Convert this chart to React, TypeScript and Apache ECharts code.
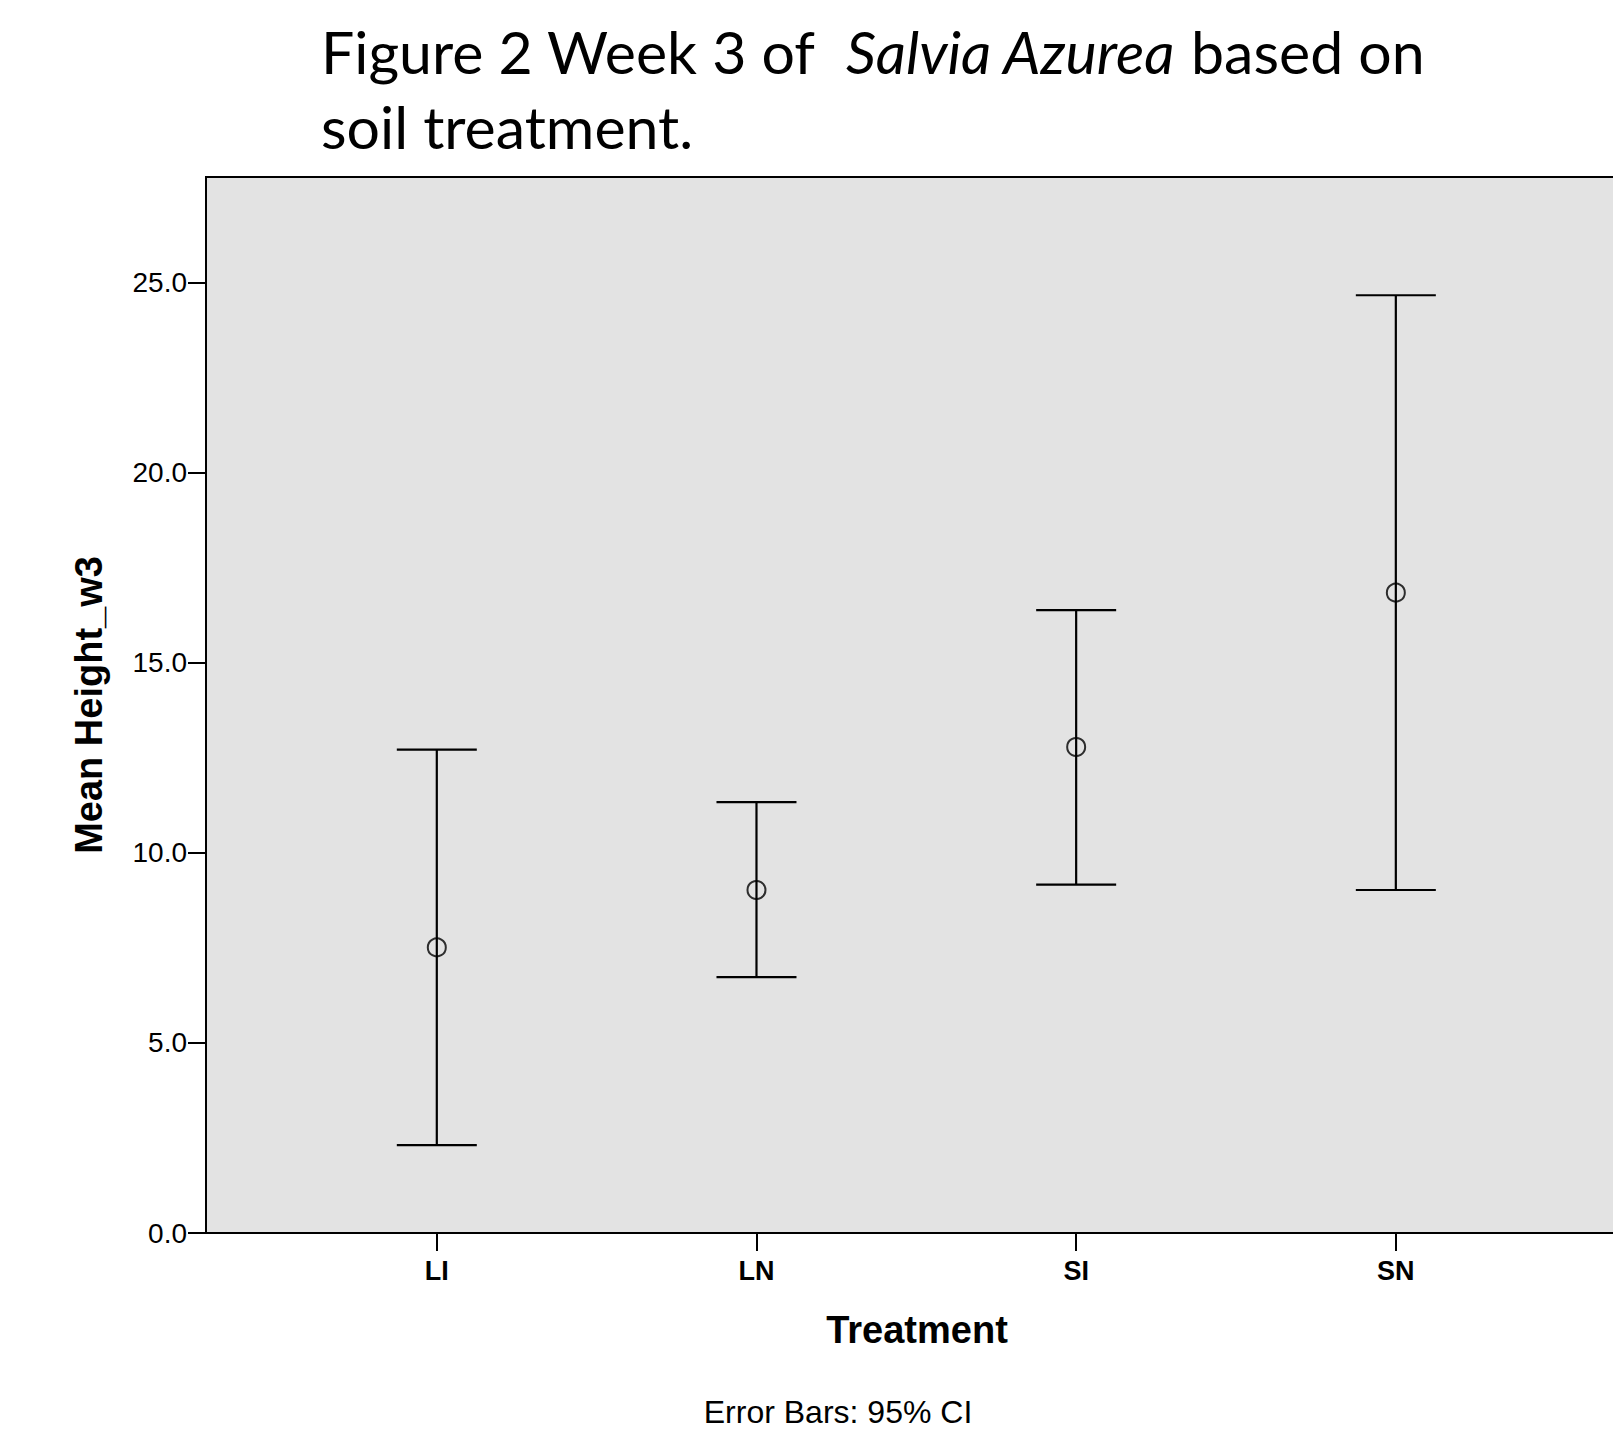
import React, { useEffect, useRef } from "react";
import * as echarts from "echarts";

const categories = ["LI", "LN", "SI", "SN"];
const categoryPositions = [1, 2, 3, 4];
const meanValues = [7.51, 9.02, 12.78, 16.84];
const upperCI = [12.71, 11.33, 16.38, 24.66];
const lowerCI = [2.31, 6.73, 9.16, 9.02];
const yTickValues = [0, 5, 10, 15, 20, 25];

const TITLE_LINE1_A = "Figure 2 Week 3 of  ";
const TITLE_ITALIC = "Salvia Azurea";
const TITLE_LINE1_B = " based on";
const TITLE_LINE2 = "soil treatment.";
const X_NAME = "Treatment";
const Y_NAME = "Mean Height_w3";
const FOOTNOTE = "Error Bars: 95% CI";

export default function App() {
  const ref = useRef<HTMLDivElement>(null);

  useEffect(() => {
    if (!ref.current) return;
    const chart = echarts.init(ref.current, undefined, { renderer: "svg" });

    const errData = categoryPositions.map((x, i) => [x, lowerCI[i], upperCI[i]]);
    const meanData = categoryPositions.map((x, i) => [x, meanValues[i]]);
    const sansFont = '"Liberation Sans", Arial, sans-serif';

    chart.setOption({
      animation: false,
      backgroundColor: "#ffffff",
      grid: {
        left: 206,
        top: 177,
        width: 1420,
        bottom: 211,
        show: true,
        backgroundColor: "#e3e3e3",
        borderColor: "#000000",
        borderWidth: 2,
        containLabel: false,
        outerBoundsMode: "none",
      },
      xAxis: {
        type: "value",
        min: 0.278,
        max: 4.72,
        axisLine: { show: true, onZero: false, lineStyle: { color: "#000", width: 2 } },
        axisTick: {
          show: true,
          length: 18,
          lineStyle: { color: "#000", width: 2 },
          customValues: categoryPositions,
        },
        axisLabel: {
          customValues: categoryPositions,
          formatter: (v: number) => categories[Math.round(v) - 1] ?? "",
          color: "#000",
          fontFamily: sansFont,
          fontWeight: "bold",
          fontSize: 27,
          margin: 24,
        },
        splitLine: { show: false },
      },
      yAxis: {
        type: "value",
        min: 0,
        max: 27.77,
        axisLine: { show: true, onZero: false, lineStyle: { color: "#000", width: 2 } },
        axisTick: {
          show: true,
          length: 18,
          lineStyle: { color: "#000", width: 2 },
          customValues: yTickValues,
        },
        axisLabel: {
          customValues: yTickValues,
          formatter: (v: number) => v.toFixed(1),
          color: "#000",
          fontFamily: sansFont,
          fontSize: 28,
          margin: 19,
        },
        splitLine: { show: false },
      },
      graphic: [
        {
          type: "text",
          x: 321,
          y: 51,
          style: {
            text: `{a|${TITLE_LINE1_A}}{b|${TITLE_ITALIC}}{a|${TITLE_LINE1_B}}`,
            verticalAlign: "middle",
            align: "left",
            rich: {
              a: { fontFamily: "Lato", fontSize: 59, fill: "#000" },
              b: { fontFamily: "Lato", fontSize: 59, fontStyle: "italic", fill: "#000" },
            },
          },
        },
        {
          type: "text",
          x: 321,
          y: 126,
          style: {
            text: TITLE_LINE2,
            fontFamily: "Lato",
            fontSize: 59,
            fill: "#000",
            verticalAlign: "middle",
            align: "left",
          },
        },
        {
          type: "text",
          x: 917,
          y: 1330,
          style: {
            text: X_NAME,
            font: `bold 38px ${sansFont}`,
            fill: "#000",
            align: "center",
            verticalAlign: "middle",
          },
        },
        {
          type: "text",
          x: 89,
          y: 705,
          rotation: Math.PI / 2,
          style: {
            text: Y_NAME,
            font: `bold 38px ${sansFont}`,
            fill: "#000",
            align: "center",
            verticalAlign: "middle",
          },
        },
        {
          type: "text",
          x: 838,
          y: 1412,
          style: {
            text: FOOTNOTE,
            font: `32px ${sansFont}`,
            fill: "#000",
            align: "center",
            verticalAlign: "middle",
          },
        },
      ],
      series: [
        {
          type: "custom",
          data: errData,
          encode: { x: 0, y: [1, 2] },
          renderItem: (params: any, api: any) => {
            const x = api.value(0);
            const lo = api.coord([x, api.value(1)]);
            const hi = api.coord([x, api.value(2)]);
            const half = 40;
            const style = { stroke: "#000", lineWidth: 2.2, fill: "none" };
            return {
              type: "group",
              children: [
                { type: "line", shape: { x1: lo[0], y1: lo[1], x2: hi[0], y2: hi[1] }, style },
                { type: "line", shape: { x1: hi[0] - half, y1: hi[1], x2: hi[0] + half, y2: hi[1] }, style },
                { type: "line", shape: { x1: lo[0] - half, y1: lo[1], x2: lo[0] + half, y2: lo[1] }, style },
              ],
            };
          },
          z: 2,
        },
        {
          type: "scatter",
          data: meanData,
          symbol: "circle",
          symbolSize: 18,
          itemStyle: { color: "rgba(0,0,0,0)", borderColor: "#000", borderWidth: 2 },
          z: 3,
        },
      ],
    });

    return () => chart.dispose();
  }, []);

  return (
    <div
      ref={ref}
      style={{ position: "absolute", left: 0, top: 0, width: 1613, height: 1444 }}
    />
  );
}
